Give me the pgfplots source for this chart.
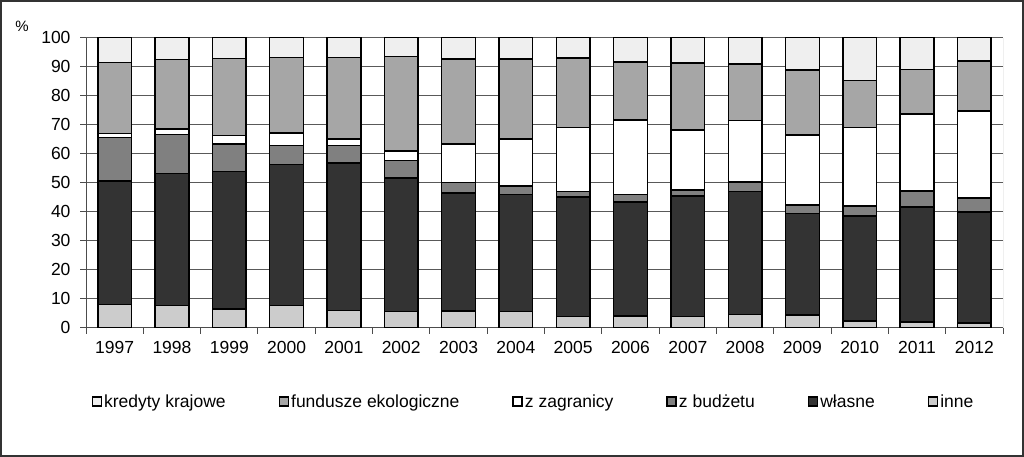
\documentclass[border=0pt]{standalone}
\usepackage{fontspec}
\setmainfont{Liberation Sans}
\usepackage{pgfplots}
\usepackage{pgfplotstable}
\pgfplotsset{compat=1.18}
\definecolor{cKred}{HTML}{EFEFEF}
\definecolor{cFund}{HTML}{A6A6A6}
\definecolor{cZag}{HTML}{FFFFFF}
\definecolor{cBud}{HTML}{808080}
\definecolor{cWl}{HTML}{333333}
\definecolor{cInne}{HTML}{CCCCCC}
\pgfplotstableread{
x inne wlasne budzet zagranica fundusze kredyty
0  8.0 42.6 14.9  1.5 24.4  8.6
1  7.7 45.4 13.6  1.9 23.9  7.5
2  6.4 47.5  9.4  2.9 26.7  7.1
3  7.7 48.6  6.6  4.3 25.9  6.9
4  5.9 50.9  6.1  2.1 28.1  6.9
5  5.5 46.1  6.1  3.3 32.6  6.4
6  5.8 40.6  3.7 13.2 29.4  7.3
7  5.5 40.5  2.8 16.3 27.6  7.3
8  3.8 41.2  2.0 22.1 23.9  7.0
9  4.0 39.3  2.6 25.7 20.0  8.4
10 3.8 41.6  2.1 20.7 23.0  8.8
11 4.5 42.4  3.4 21.2 19.4  9.1
12 4.3 35.1  2.9 24.1 22.4 11.2
13 2.3 36.3  3.4 27.1 16.1 14.8
14 2.0 39.6  5.5 26.6 15.4 10.9
15 1.7 38.2  4.9 29.9 17.2  8.1
}\data
\begin{document}
\begin{tikzpicture}
\useasboundingbox (0,0) rectangle (1024pt,457pt);
\begin{axis}[
  at={(86pt,129.3pt)}, anchor=south west,
  scale only axis, width=917pt, height=290pt,
  ybar stacked, bar width=33.7pt,
  xmin=-0.5, xmax=15.5, ymin=0, ymax=100,
  ytick={0,10,...,100},
  xtick={-0.5,0.5,...,15.5}, xticklabels={},
  extra x ticks={0,...,15},
  extra x tick labels={1997,1998,1999,2000,2001,2002,2003,2004,2005,2006,2007,2008,2009,2010,2011,2012},
  extra x tick style={major tick length=0pt, grid=none},
  tick align=outside, tick pos=left, major tick length=6pt,
  tick style={black!70, line width=1pt},
  ymajorgrids, grid style={black!65, line width=1pt},
  axis line style={draw=none},
  /pgf/number format/assume math mode=true,
  tick label style={font=\fontsize{17.5}{20}\selectfont},
  xticklabel style={yshift=-10pt},
  yticklabel style={xshift=-6pt},
  legend columns=6, reverse legend,
  legend style={at={(0.488,-0.255)}, anchor=center, draw=none, fill=none,
    font=\fontsize{17.5}{20}\selectfont,
    /tikz/every even column/.append style={column sep=51pt},
    nodes={inner sep=2pt}},
  legend image code/.code={\draw[#1, line width=1.5pt, draw=black] (0pt,-4.5pt) rectangle (9pt,4.5pt);},
  every axis plot/.append style={draw=black, line width=1.5pt},
]
\addplot[fill=cInne] table[x=x,y=inne]{\data};
\addplot[fill=cWl] table[x=x,y=wlasne]{\data};
\addplot[fill=cBud] table[x=x,y=budzet]{\data};
\addplot[fill=cZag] table[x=x,y=zagranica]{\data};
\addplot[fill=cFund] table[x=x,y=fundusze]{\data};
\addplot[fill=cKred] table[x=x,y=kredyty]{\data};
\legend{inne,własne,z budżetu,z zagranicy,fundusze ekologiczne,kredyty krajowe}
\draw[black!70, line width=1pt] (rel axis cs:0,0) -- (rel axis cs:1,0);
\draw[black!70, line width=1pt] (rel axis cs:0,0) -- (rel axis cs:0,1);
\draw[black!50, line width=1pt] (rel axis cs:1,0) -- (rel axis cs:1,1);
\end{axis}
\node[font=\fontsize{15}{18}\selectfont] at (22pt,431pt) {\%};
\draw[black!80, line width=2pt] (1pt,1pt) rectangle (1023pt,456pt);
\end{tikzpicture}
\end{document}
